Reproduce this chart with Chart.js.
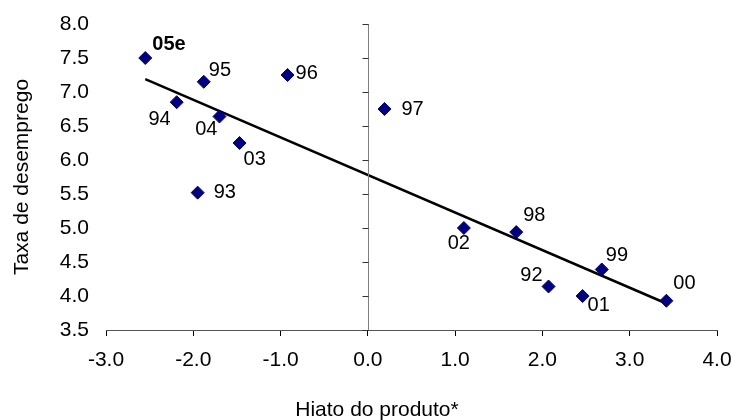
<!DOCTYPE html>
<html>
<head>
<meta charset="utf-8">
<script src="https://cdn.jsdelivr.net/npm/chart.js@4.4.1/dist/chart.umd.min.js"></script>
<style>
  html, body { margin: 0; padding: 0; background: #ffffff; }
  #wrap { width: 733px; height: 420px; }
</style>
</head>
<body>
<div id="wrap"><canvas id="c" width="733" height="420"></canvas></div>
<script>
// ---- data ----
const years = ['92', '93', '94', '95', '96', '97', '98', '99', '00', '01', '02', '03', '04', '05e'];
const outputGap = [2.07, -1.95, -2.19, -1.88, -0.92, 0.19, 1.70, 2.68, 3.42, 2.46, 1.10, -1.47, -1.70, -2.55];
const unemployment = [4.14, 5.52, 6.85, 7.15, 7.25, 6.75, 4.94, 4.39, 3.93, 4.00, 5.00, 6.25, 6.64, 7.50];
const trendGap = [-2.55, 3.42];
const trendUnemployment = [7.19, 3.89];
const xTickValues = [-3, -2, -1, 0, 1, 2, 3, 4];
const yTickValues = [3.5, 4.0, 4.5, 5.0, 5.5, 6.0, 6.5, 7.0, 7.5, 8.0];
const xTitle = 'Hiato do produto*';
const yTitle = 'Taxa de desemprego';

// label placement (align, dx, dy) per year, in the same order as years
const labelPlacement = [
  ['right', -6, -11], // 92
  ['left', 16, 0],    // 93
  ['right', -6, 17],  // 94
  ['left', 5, -11],   // 95
  ['left', 8, -2],    // 96
  ['left', 17, 0],    // 97
  ['left', 7, -17],   // 98
  ['left', 4, -14],   // 99
  ['left', 7, -17],   // 00
  ['left', 5, 9],     // 01
  ['right', 6, 15],   // 02
  ['left', 4, 16],    // 03
  ['right', -2, 13],  // 04
  ['left', 7, -14]    // 05e
];

const FONT = '"Liberation Sans", Arial, sans-serif';

const scatterPoints = outputGap.map((x, i) => ({ x: x, y: unemployment[i] }));
const trendPoints = trendGap.map((x, i) => ({ x: x, y: trendUnemployment[i] }));

const overlay = {
  id: 'overlay',
  afterDatasetsDraw(chart) {
    const ctx = chart.ctx;
    const xs = chart.scales.x, ys = chart.scales.y;
    const area = chart.chartArea;
    // vertical axis crossing at x = 0
    const x0 = Math.round(xs.getPixelForValue(0)) + 0.5;
    ctx.save();
    ctx.strokeStyle = '#808080';
    ctx.lineWidth = 1;
    ctx.beginPath();
    ctx.moveTo(x0, area.top);
    ctx.lineTo(x0, area.bottom);
    ctx.stroke();
    ctx.strokeStyle = '#333333';
    ctx.beginPath();
    yTickValues.forEach(v => {
      const py = Math.round(ys.getPixelForValue(v)) + 0.5;
      ctx.moveTo(x0 - 6, py);
      ctx.lineTo(x0, py);
    });
    ctx.stroke();
    ctx.restore();
  },
  afterDraw(chart) {
    const ctx = chart.ctx;
    const meta = chart.getDatasetMeta(1);
    ctx.save();
    ctx.fillStyle = '#000000';
    ctx.textBaseline = 'middle';
    meta.data.forEach((pt, i) => {
      const [align, dx, dy] = labelPlacement[i];
      ctx.font = (years[i] === '05e' ? 'bold ' : '') + '20px ' + FONT;
      ctx.textAlign = align;
      ctx.fillText(years[i], pt.x + dx, pt.y + dy);
    });
    // x axis title
    ctx.font = '21px ' + FONT;
    ctx.textAlign = 'center';
    ctx.textBaseline = 'alphabetic';
    ctx.fillText(xTitle, 377, 416);
    ctx.restore();
  }
};

new Chart(document.getElementById('c'), {
  type: 'scatter',
  data: {
    datasets: [
      {
        type: 'line',
        data: trendPoints,
        borderColor: '#000000',
        borderWidth: 2.5,
        pointRadius: 0,
        fill: false,
        order: 2
      },
      {
        data: scatterPoints,
        pointStyle: 'rectRot',
        pointRadius: 6.5,
        pointBackgroundColor: '#000080',
        pointBorderColor: '#000080',
        pointBorderWidth: 1,
        order: 1
      }
    ]
  },
  options: {
    responsive: false,
    animation: false,
    devicePixelRatio: 1,
    layout: { padding: { top: 24, right: 16, left: 0, bottom: 0 } },
    plugins: { legend: { display: false }, tooltip: { enabled: false } },
    scales: {
      x: {
        type: 'linear',
        min: -3, max: 4,
        afterBuildTicks: s => { s.ticks = xTickValues.map(v => ({ value: v })); },
        afterFit: s => { s.height = 90; s.paddingLeft = 0; s.paddingRight = 0; },
        ticks: {
          callback: v => v.toFixed(1),
          color: '#000000',
          font: { family: FONT, size: 21 },
          padding: 12,
          maxRotation: 0
        },
        grid: { drawOnChartArea: false, drawTicks: true, tickLength: 6, color: '#000000' },
        border: { display: true, color: '#555555', width: 1 }
      },
      y: {
        type: 'linear',
        min: 3.5, max: 8,
        afterBuildTicks: s => { s.ticks = yTickValues.map(v => ({ value: v })); },
        afterFit: s => { s.width = 106; s.paddingTop = 0; s.paddingBottom = 0; },
        ticks: {
          callback: v => v.toFixed(1),
          color: '#000000',
          font: { family: FONT, size: 21 },
          padding: 17
        },
        grid: { display: false, drawTicks: false },
        border: { display: false },
        title: {
          display: true,
          text: yTitle,
          color: '#000000',
          font: { family: FONT, size: 21 },
          padding: { top: 10, bottom: 0 }
        }
      }
    }
  },
  plugins: [overlay]
});
</script>
</body>
</html>
